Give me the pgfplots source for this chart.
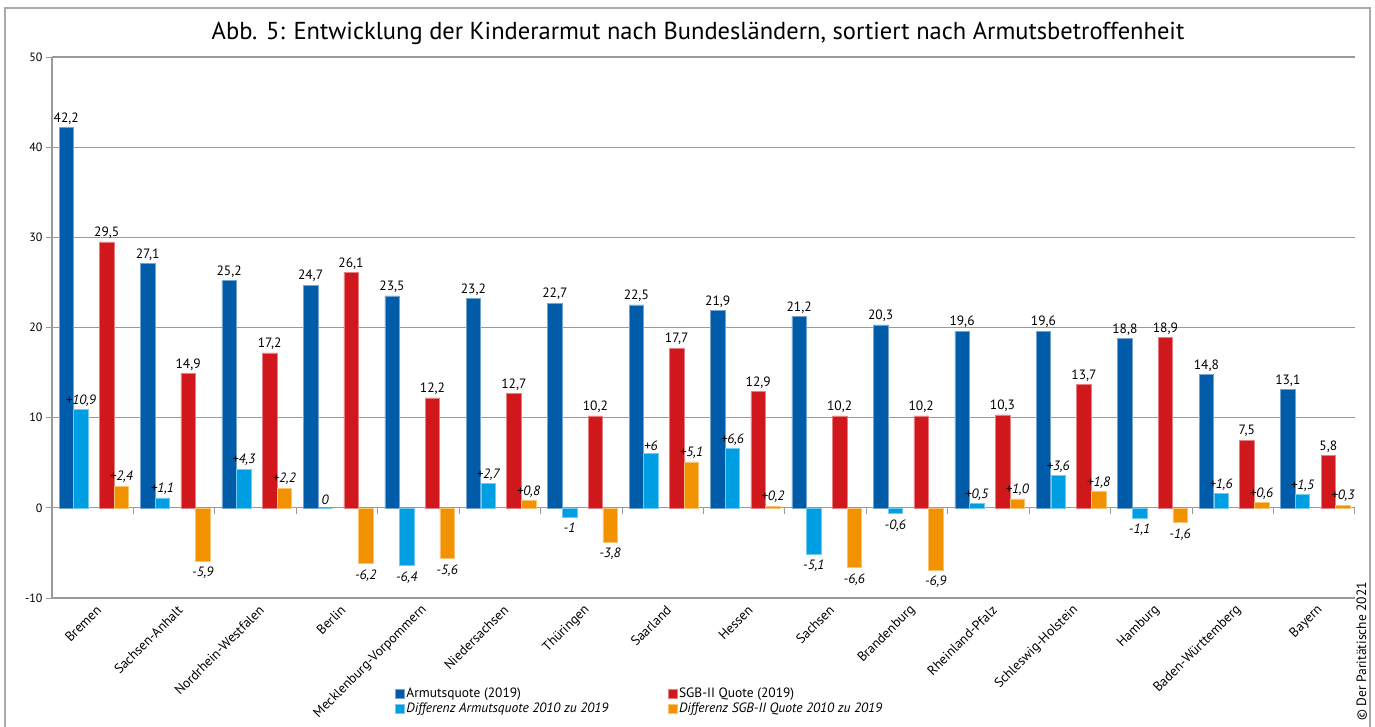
\documentclass[border=0pt]{standalone}
\usepackage{fontspec}
\setmainfont{PT Sans}
\usepackage{pgfplots}
\usepackage{pgfplotstable}
\pgfplotsset{compat=1.18}

\definecolor{cArm}{HTML}{005CA9}
\definecolor{cDArm}{HTML}{009FE3}
\definecolor{cSgb}{HTML}{D0171B}
\definecolor{cDSgb}{HTML}{F39200}
\definecolor{cGrid}{HTML}{9A9A9A}
\definecolor{cFrame}{HTML}{AAAAAA}

\newcommand{\lblfont}{\fontsize{13.5}{15}\selectfont}
\newcommand{\catfont}{\fontsize{13.5}{16}\selectfont}

% x arm darm sgb dsgb + label columns
\pgfplotstableread{
x arm armlab darm darmlab sgb sgblab dsgb dsgblab
0  42.2 42,2 10.9 +10,9 29.5 29,5  2.4 +2,4
1  27.1 27,1  1.1 +1,1  14.9 14,9 -5.9 -5,9
2  25.2 25,2  4.3 +4,3  17.2 17,2  2.2 +2,2
3  24.7 24,7  0.0 0     26.1 26,1 -6.2 -6,2
4  23.5 23,5 -6.4 -6,4  12.2 12,2 -5.6 -5,6
5  23.2 23,2  2.7 +2,7  12.7 12,7  0.8 +0,8
6  22.7 22,7 -1.0 -1    10.2 10,2 -3.8 -3,8
7  22.5 22,5  6.0 +6    17.7 17,7  5.1 +5,1
8  21.9 21,9  6.6 +6,6  12.9 12,9  0.2 +0,2
9  21.2 21,2 -5.1 -5,1  10.2 10,2 -6.6 -6,6
10 20.3 20,3 -0.6 -0,6  10.2 10,2 -6.9 -6,9
11 19.6 19,6  0.5 +0,5  10.3 10,3  1.0 +1,0
12 19.6 19,6  3.6 +3,6  13.7 13,7  1.8 +1,8
13 18.8 18,8 -1.1 -1,1  18.9 18,9 -1.6 -1,6
14 14.8 14,8  1.6 +1,6   7.5 7,5   0.6 +0,6
15 13.1 13,1  1.5 +1,5   5.8 5,8   0.3 +0,3
}\datatable

\begin{document}
\begin{tikzpicture}
\useasboundingbox (0pt,0pt) rectangle (1375pt,-727pt);
\draw[cFrame, line width=1.6pt] (5pt,-727pt) -- (5pt,-8pt) -- (1370pt,-8pt) -- (1370pt,-727pt);
\node[font=\fontsize{24.5}{28}\selectfont] at (698pt,-33pt) {Abb. 5: Entwicklung der Kinderarmut nach Bundesländern, sortiert nach Armutsbetroffenheit};
\node[rotate=90, font=\catfont, anchor=base west, inner sep=0pt] at (1366pt,-721pt) {© Der Paritätische 2021};

\begin{axis}[
  at={(52pt,-598pt)}, anchor=south west,
  scale only axis, width=1303pt, height=541pt,
  xmin=-0.5, xmax=15.5, ymin=-10, ymax=50,
  ybar, bar width=0.178,
  xtick={0,...,15},
  xticklabels={Bremen,Sachsen-Anhalt,Nordrhein-Westfalen,Berlin,Mecklenburg-Vorpommern,Niedersachsen,Thüringen,Saarland,Hessen,Sachsen,Brandenburg,Rheinland-Pfalz,Schleswig-Holstein,Hamburg,Baden-Württemberg,Bayern},
  xticklabel style={rotate=45, anchor=east, font=\catfont, yshift=-7pt, xshift=5pt},
  major x tick style={draw=none},
  ytick={-10,0,...,50},
  yticklabel style={font=\fontsize{12}{14}\selectfont},
  /pgf/number format/assume math mode=true,
  tick align=outside, major tick length=6pt,
  ytick style={cGrid, line width=1pt},
  separate axis lines,
  x axis line style={draw=none},
  y axis line style={cGrid, line width=1.2pt},
  axis y line*=left,
  ymajorgrids, grid style={cGrid, line width=1.2pt},
  clip=false,
  point meta=explicit symbolic,
  nodes near coords,
  visualization depends on={rawy \as \rawy},
  every node near coord/.append style={font=\lblfont, text=black, inner sep=3pt},
  every node near coord/.append code={%
    \ifdim\rawy pt<0pt\relax\pgfkeysalso{anchor=north, yshift=-3pt}\else\pgfkeysalso{anchor=south}\fi},
  legend columns=2,
  legend cell align=left,
  legend image code/.code={\fill[#1] (0pt,-4.5pt) rectangle (9pt,4.5pt);},
  legend style={at={(0.263,-0.162)}, anchor=north west, draw=none, fill=none,
    font=\catfont, row sep=0pt, inner sep=0pt,
    /tikz/every even column/.append style={column sep=57pt}},
]
\addplot[bar shift=-0.325, fill=cArm, draw=cArm!55!white, line width=0.5pt]
  table[x=x, y=arm, meta=armlab] {\datatable};
\addlegendentry{Armutsquote (2019)}
\addplot[bar shift=0.172, fill=cSgb, draw=cSgb!55!white, line width=0.5pt]
  table[x=x, y=sgb, meta=sgblab] {\datatable};
\addlegendentry{SGB-II Quote (2019)}
\addplot[bar shift=-0.145, fill=cDArm, draw=cDArm!55!white, line width=0.5pt,
  nodes near coords style={font=\lblfont\itshape}]
  table[x=x, y=darm, meta=darmlab] {\datatable};
\addlegendentry{\textit{Differenz Armutsquote 2010 zu 2019}}
\addplot[bar shift=0.352, fill=cDSgb, draw=cDSgb!55!white, line width=0.5pt,
  nodes near coords style={font=\lblfont\itshape}]
  table[x=x, y=dsgb, meta=dsgblab] {\datatable};
\addlegendentry{\textit{Differenz SGB-II Quote 2010 zu 2019}}

\pgfplotsinvokeforeach{-0.5,0.5,1.5,2.5,3.5,4.5,5.5,6.5,7.5,8.5,9.5,10.5,11.5,12.5,13.5,14.5,15.5}{
  \draw[cGrid, line width=1pt] (axis cs:#1,0) -- ++(0pt,-6pt);
}
\end{axis}
\end{tikzpicture}
\end{document}
